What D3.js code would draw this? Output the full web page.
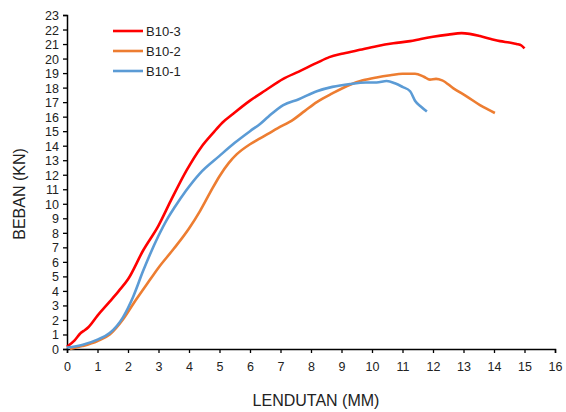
<!DOCTYPE html>
<html>
<head>
<meta charset="utf-8">
<script src="https://cdn.jsdelivr.net/npm/d3@7"></script>
<style>
  body { margin: 0; background: #fff; }
  text { font-family: "Liberation Sans", "DejaVu Sans", sans-serif; }
</style>
</head>
<body>
<svg id="chart" width="566" height="412"></svg>
<script>
// load-deflection data
const xTicks = d3.range(0, 17)
const yTicks = d3.range(0, 24)

const b103 = [
  [0, 0.16], [0.25, 0.6], [0.45, 1.1], [0.55, 1.25], [0.7, 1.5], [1, 2.3], [1.4, 3.26],
  [1.7, 4.0], [2.0, 4.8], [2.5, 6.8], [3.0, 8.5], [3.4, 10.2], [3.92, 12.3], [4.4, 13.9],
  [4.8, 14.9], [5.1, 15.6], [5.45, 16.2], [6.0, 17.1], [6.5, 17.8], [7.09, 18.6],
  [7.6, 19.1], [8.19, 19.7], [8.6, 20.1], [9.06, 20.35], [9.6, 20.6], [10.15, 20.85],
  [10.7, 21.05], [11.25, 21.2], [11.6, 21.35], [12.0, 21.5], [12.5, 21.65], [12.94, 21.75],
  [13.2, 21.7], [13.54, 21.55], [13.9, 21.35], [14.2, 21.2], [14.5, 21.1], [14.74, 21.0],
  [14.9, 20.9], [15.0, 20.7]
]

const b102 = [
  [0.1, 0], [0.5, 0.2], [1.0, 0.55], [1.4, 1.0], [1.84, 2.05], [2.17, 3.1], [2.6, 4.4],
  [3.0, 5.6], [3.5, 6.9], [4.0, 8.3], [4.36, 9.5], [4.7, 10.8], [5.0, 11.9], [5.3, 12.8],
  [5.56, 13.4], [6.0, 14.1], [6.33, 14.5], [6.9, 15.2], [7.42, 15.8], [7.8, 16.4],
  [8.19, 17.0], [8.7, 17.6], [9.28, 18.2], [9.7, 18.5], [10.15, 18.7], [10.6, 18.85],
  [11.0, 18.95], [11.41, 18.95], [11.7, 18.75], [11.9, 18.55], [12.1, 18.6], [12.3, 18.5],
  [12.67, 17.95], [13.1, 17.4], [13.54, 16.8], [13.8, 16.5], [14.03, 16.25]
]

const b101 = [
  [0, 0.1], [0.52, 0.3], [1.0, 0.65], [1.4, 1.1], [1.84, 2.2], [2.17, 3.6], [2.5, 5.4],
  [3.0, 7.8], [3.3, 9.0], [3.54, 9.8], [3.9, 10.9], [4.36, 12.1], [5.0, 13.3], [5.5, 14.2],
  [6.0, 15.0], [6.33, 15.5], [6.6, 16.0], [7.09, 16.8], [7.6, 17.2], [8.19, 17.75],
  [8.7, 18.05], [9.28, 18.25], [9.8, 18.35], [10.15, 18.35], [10.48, 18.45], [10.75, 18.3],
  [11.0, 18.05], [11.25, 17.75], [11.41, 17.1], [11.6, 16.7], [11.8, 16.35]
]

const seriesNames = ['B10-3', 'B10-2', 'B10-1']
const seriesColors = ['#ff0000', '#ed7d31', '#5b9bd5']
const seriesData = [b103, b102, b101]

const svg = d3.select('#chart')
const x = d3.scaleLinear().domain([0, 16]).range([67, 555])
const y = d3.scaleLinear().domain([0, 23]).range([349, 15])

// axes
const xAxis = svg.append('g')
  .attr('transform', 'translate(0,' + y(0) + ')')
  .call(d3.axisBottom(x).tickValues(xTicks).tickSize(4).tickPadding(9).tickFormat(d3.format('d')))
const yAxis = svg.append('g')
  .attr('transform', 'translate(' + x(0) + ',0)')
  .call(d3.axisLeft(y).tickValues(yTicks).tickSize(4).tickPadding(4).tickFormat(d3.format('d')))

for (const g of [xAxis, yAxis]) {
  g.select('.domain').attr('stroke', '#000').attr('stroke-width', 1.5)
  g.selectAll('.tick line').attr('stroke', '#000').attr('stroke-width', 1.3)
  g.selectAll('.tick text')
    .attr('fill', '#222')
    .style('font-family', '"Liberation Sans", sans-serif')
    .style('font-size', '12.5px')
}
yAxis.selectAll('.tick text').attr('dy', '0.36em')

// curves
const line = d3.line()
  .curve(d3.curveMonotoneX)
  .x(function(d) { return x(d[0]) })
  .y(function(d) { return y(d[1]) })

seriesData.forEach(function(data, i) {
  svg.append('path')
    .datum(data)
    .attr('fill', 'none')
    .attr('stroke', seriesColors[i])
    .attr('stroke-width', 2.6)
    .attr('stroke-linejoin', 'round')
    .attr('d', line)
})

// legend
const legend = svg.append('g')
seriesNames.forEach(function(name, i) {
  const ly = 31 + i * 20
  legend.append('line')
    .attr('x1', 113).attr('x2', 143)
    .attr('y1', ly).attr('y2', ly)
    .attr('stroke', seriesColors[i])
    .attr('stroke-width', 2.6)
  legend.append('text')
    .attr('x', 146).attr('y', ly)
    .attr('dy', '0.36em')
    .attr('fill', '#222')
    .style('font-size', '13px')
    .text(name)
})

// axis titles
svg.append('text')
  .attr('x', 316).attr('y', 400)
  .attr('dy', '0.36em')
  .attr('text-anchor', 'middle')
  .attr('fill', '#222')
  .style('font-size', '16px')
  .text('LENDUTAN (MM)')

svg.append('text')
  .attr('transform', 'translate(19,194) rotate(-90)')
  .attr('dy', '0.36em')
  .attr('text-anchor', 'middle')
  .attr('fill', '#222')
  .style('font-size', '16px')
  .text('BEBAN (KN)')
</script>
</body>
</html>
